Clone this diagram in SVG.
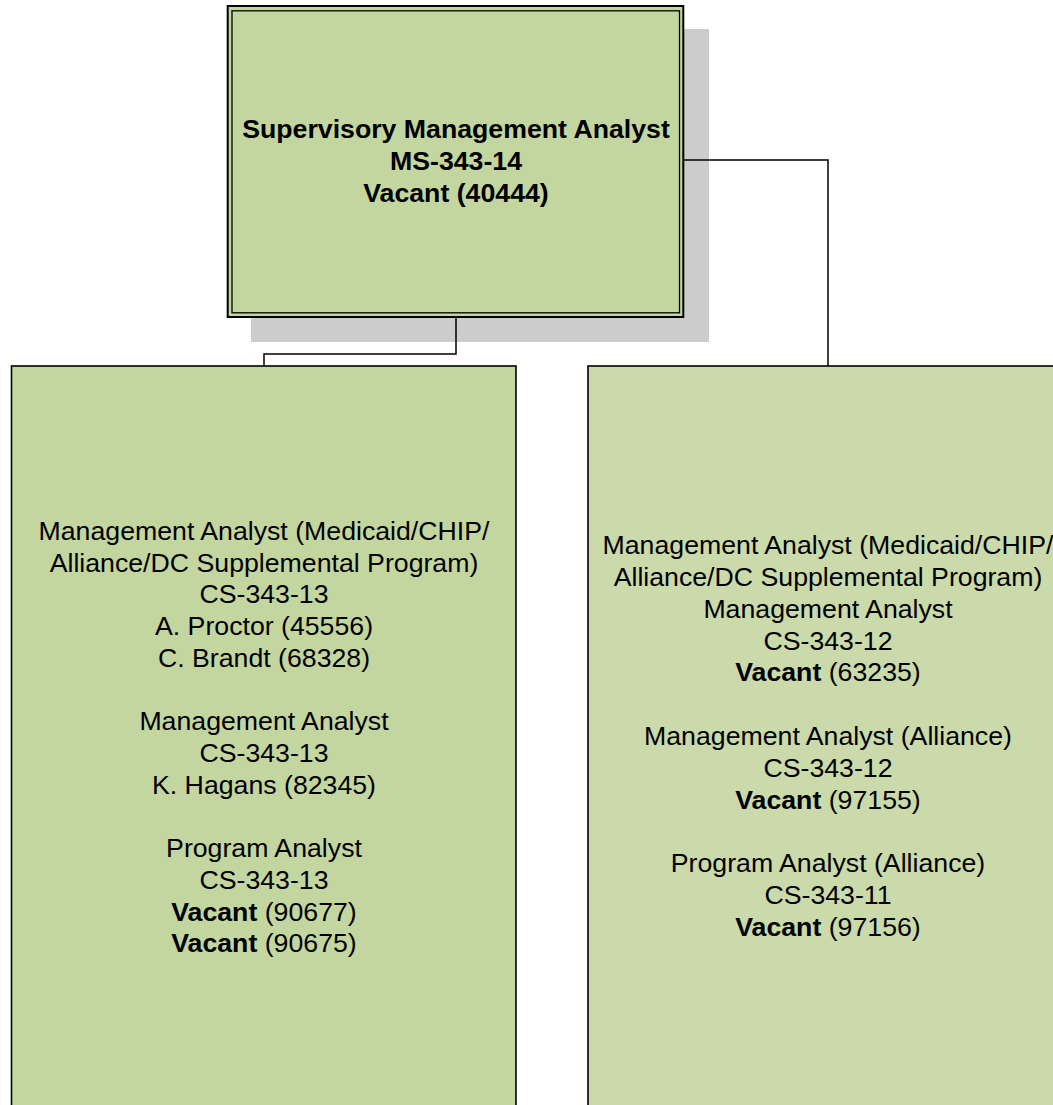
<svg xmlns="http://www.w3.org/2000/svg" width="1053" height="1105" viewBox="0 0 1053 1105">
<style>
text { font-family: "Liberation Sans", Arial, sans-serif; font-size: 26.7px; fill: #000; text-anchor: middle; }
.b { font-weight: bold; }
.conn { fill: none; stroke: #000; stroke-width: 1.5; }
</style>
<rect width="1053" height="1105" fill="#ffffff"/>
<g id="node-supervisor">
<rect x="251" y="29" width="458" height="313" fill="#cccccc"/>
<rect x="227.7" y="6" width="455.6" height="311" fill="#c4d6a0" stroke="#000" stroke-width="2"/>
<rect x="232" y="10.8" width="447.5" height="302" fill="none" stroke="#000" stroke-width="1.3"/>
<text class="b" x="456" y="138">Supervisory Management Analyst</text>
<text class="b" x="456" y="170">MS-343-14</text>
<text class="b" x="456" y="202">Vacant (40444)</text>
</g>
<g id="node-left">
<rect x="11.5" y="366" width="504.5" height="760" fill="#c4d6a0" stroke="#000" stroke-width="1.6"/>
<text x="264" y="540">Management Analyst (Medicaid/CHIP/</text>
<text x="264" y="571.7">Alliance/DC Supplemental Program)</text>
<text x="264" y="603.4">CS-343-13</text>
<text x="264" y="635">A. Proctor (45556)</text>
<text x="264" y="666.8">C. Brandt (68328)</text>
<text x="264" y="730">Management Analyst</text>
<text x="264" y="762">CS-343-13</text>
<text x="264" y="793.6">K. Hagans (82345)</text>
<text x="264" y="857">Program Analyst</text>
<text x="264" y="888.7">CS-343-13</text>
<text x="264" y="920.5"><tspan class="b">Vacant</tspan> (90677)</text>
<text x="264" y="952"><tspan class="b">Vacant</tspan> (90675)</text>
</g>
<g id="node-right">
<rect x="588" y="366" width="480" height="760" fill="#cbdaab" stroke="#000" stroke-width="1.6"/>
<text x="828" y="554">Management Analyst (Medicaid/CHIP/</text>
<text x="828" y="586">Alliance/DC Supplemental Program)</text>
<text x="828" y="617.5">Management Analyst</text>
<text x="828" y="649.5">CS-343-12</text>
<text x="828" y="681"><tspan class="b">Vacant</tspan> (63235)</text>
<text x="828" y="745">Management Analyst (Alliance)</text>
<text x="828" y="776.5">CS-343-12</text>
<text x="828" y="808.5"><tspan class="b">Vacant</tspan> (97155)</text>
<text x="828" y="872">Program Analyst (Alliance)</text>
<text x="828" y="903.5">CS-343-11</text>
<text x="828" y="935.5"><tspan class="b">Vacant</tspan> (97156)</text>
</g>
<g id="connectors">
<polyline class="conn" points="456,318 456,354 264,354 264,366"/>
<polyline class="conn" points="684,160 828,160 828,366"/>
</g>
</svg>
